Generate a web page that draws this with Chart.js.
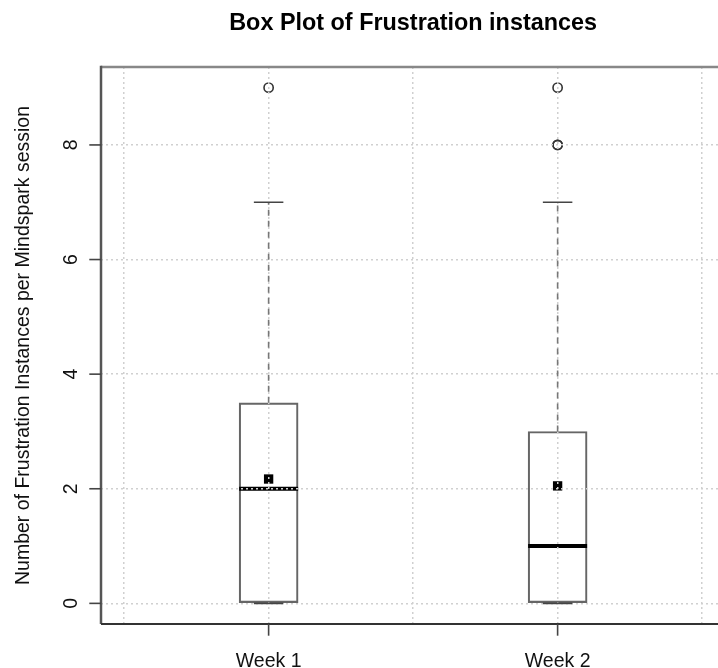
<!DOCTYPE html>
<html>
<head>
<meta charset="utf-8">
<script src="https://cdn.jsdelivr.net/npm/chart.js@4.4.1/dist/chart.umd.min.js"></script>
<style>
  html, body { margin: 0; padding: 0; background: #fff; overflow: hidden; }
  canvas { display: block; }
</style>
</head>
<body>
<canvas id="boxplot" width="718" height="668"></canvas>
<script>
// Box plot values
const categories = ["Week 1", "Week 2"];
const whiskerLow = [0, 0];
const q1 = [0, 0];
const medians = [2, 1];
const q3 = [3.5, 3];
const whiskerHigh = [7, 7];
const means = [2.17, 2.05];
const outliers = [[9], [8, 8, 9]];

const yTicks = [0, 2, 4, 6, 8];
const xGrid = [0.5, 1, 1.5, 2, 2.5];

const title = "Box Plot of Frustration instances";
const yTitle = "Number of Frustration Instances per Mindspark session";

const FONT = "'Liberation Sans', Arial, Helvetica, sans-serif";
const LINE = 23.4; // one R "line" of margin text
const HALF_BOX = 29.5;

// medians go under the dotted grid, like in R
const boxMedians = {
    id: "boxMedians",
    afterDatasetsDraw(chart) {
        const { ctx, scales: { x, y } } = chart;
        ctx.save();
        ctx.strokeStyle = "#000";
        ctx.lineWidth = 4;
        categories.forEach((c, i) => {
            const px = x.getPixelForValue(i + 1);
            const pm = y.getPixelForValue(medians[i]);
            ctx.beginPath();
            ctx.moveTo(px - HALF_BOX, pm);
            ctx.lineTo(px + HALF_BOX, pm);
            ctx.stroke();
        });
        ctx.restore();
    },
};

// whiskers, staples, frame, ticks and texts
const rAxes = {
    id: "rAxes",
    afterDraw(chart) {
        const { ctx, chartArea: a, scales: { x, y } } = chart;
        ctx.save();
        ctx.lineCap = "butt";

        categories.forEach((c, i) => {
            const px = x.getPixelForValue(i + 1);
            ctx.strokeStyle = "#777";
            ctx.lineWidth = 1.6;
            ctx.setLineDash([6, 5]);
            ctx.beginPath();
            ctx.moveTo(px, y.getPixelForValue(q3[i]));
            ctx.lineTo(px, y.getPixelForValue(whiskerHigh[i]));
            ctx.moveTo(px, y.getPixelForValue(q1[i]));
            ctx.lineTo(px, y.getPixelForValue(whiskerLow[i]));
            ctx.stroke();
            ctx.setLineDash([]);
            ctx.strokeStyle = "#444";
            ctx.beginPath();
            [whiskerHigh[i], whiskerLow[i]].forEach((v) => {
                const py = y.getPixelForValue(v);
                ctx.moveTo(px - HALF_BOX / 2, py);
                ctx.lineTo(px + HALF_BOX / 2, py);
            });
            ctx.stroke();
        });

        // frame
        ctx.strokeStyle = "#888";
        ctx.lineWidth = 2.5;
        ctx.beginPath();
        ctx.moveTo(a.left, a.top);
        ctx.lineTo(a.right, a.top);
        ctx.stroke();
        ctx.strokeStyle = "#555";
        ctx.beginPath();
        ctx.moveTo(a.left, a.top - 1.2);
        ctx.lineTo(a.left, a.bottom);
        ctx.stroke();
        ctx.strokeStyle = "#333";
        ctx.lineWidth = 1.8;
        ctx.beginPath();
        ctx.moveTo(a.left, a.bottom);
        ctx.lineTo(a.right, a.bottom);
        ctx.stroke();

        ctx.fillStyle = "#111";
        ctx.font = "19.5px " + FONT;
        ctx.strokeStyle = "#444";
        ctx.lineWidth = 1.6;
        ctx.textAlign = "center";
        ctx.textBaseline = "alphabetic";

        // y ticks
        yTicks.forEach((v) => {
            const py = y.getPixelForValue(v);
            ctx.beginPath();
            ctx.moveTo(a.left - LINE / 2, py);
            ctx.lineTo(a.left, py);
            ctx.stroke();
            ctx.save();
            ctx.translate(a.left - LINE - 1, py);
            ctx.rotate(-Math.PI / 2);
            ctx.fillText(String(v), 0, 0);
            ctx.restore();
        });

        // x ticks
        categories.forEach((c, i) => {
            const px = x.getPixelForValue(i + 1);
            ctx.beginPath();
            ctx.moveTo(px, a.bottom);
            ctx.lineTo(px, a.bottom + LINE / 2);
            ctx.stroke();
            ctx.fillText(c, px, a.bottom + 43);
        });

        // y axis title
        ctx.save();
        ctx.translate(a.left - 3 * LINE - 2, (a.top + a.bottom) / 2);
        ctx.rotate(-Math.PI / 2);
        ctx.fillText(yTitle, 0, 0);
        ctx.restore();

        // main title, centred on the plot's x range
        ctx.fillStyle = "#000";
        ctx.font = "bold 23.4px " + FONT;
        ctx.fillText(title, x.getPixelForValue(1.5), 29.5);

        ctx.restore();
    },
};

const gridStyle = {
    color: "#d0d0d0",
    lineWidth: 1.5,
    drawTicks: false,
    offset: false,
    z: 1,
};

new Chart(document.getElementById("boxplot"), {
    type: "scatter",
    data: {
        datasets: [
            {
                type: "bar",
                label: "Box",
                data: categories.map((c, i) => ({ x: i + 1, y: [q1[i], q3[i]] })),
                backgroundColor: "rgba(255,255,255,0)",
                borderColor: "#666",
                borderWidth: 1.5,
                borderSkipped: false,
                barThickness: 59,
                order: 3,
            },
            {
                label: "Outliers",
                data: outliers.flatMap((vals, i) => vals.map((v) => ({ x: i + 1, y: v }))),
                pointStyle: "circle",
                pointRadius: 4.6,
                pointBorderWidth: 1.6,
                pointBorderColor: "#333",
                pointBackgroundColor: "rgba(255,255,255,0)",
                order: 2,
            },
            {
                label: "Mean",
                data: means.map((v, i) => ({ x: i + 1, y: v })),
                pointStyle: "rect",
                pointRadius: 6.6,
                pointBorderWidth: 0,
                pointBackgroundColor: "#000",
                order: 1,
            },
        ],
    },
    options: {
        responsive: false,
        animation: false,
        events: [],
        layout: {
            autoPadding: false,
            padding: { left: 101, right: 0, top: 67, bottom: 44 },
        },
        scales: {
            x: {
                type: "linear",
                offset: false,
                min: 0.42,
                max: 2.555,
                afterBuildTicks: (s) => {
                    s.ticks = xGrid.map((v) => ({ value: v }));
                },
                afterFit: (s) => {
                    s.height = 0;
                },
                ticks: { display: false },
                grid: gridStyle,
                border: { display: false, dash: [2, 3] },
            },
            y: {
                type: "linear",
                min: -0.36,
                max: 9.36,
                afterBuildTicks: (s) => {
                    s.ticks = yTicks.map((v) => ({ value: v }));
                },
                afterFit: (s) => {
                    s.width = 0;
                },
                ticks: { display: false },
                grid: gridStyle,
                border: { display: false, dash: [2, 3] },
            },
        },
        plugins: {
            legend: { display: false },
            tooltip: { enabled: false },
            title: { display: false },
        },
    },
    plugins: [boxMedians, rAxes],
});
</script>
</body>
</html>
